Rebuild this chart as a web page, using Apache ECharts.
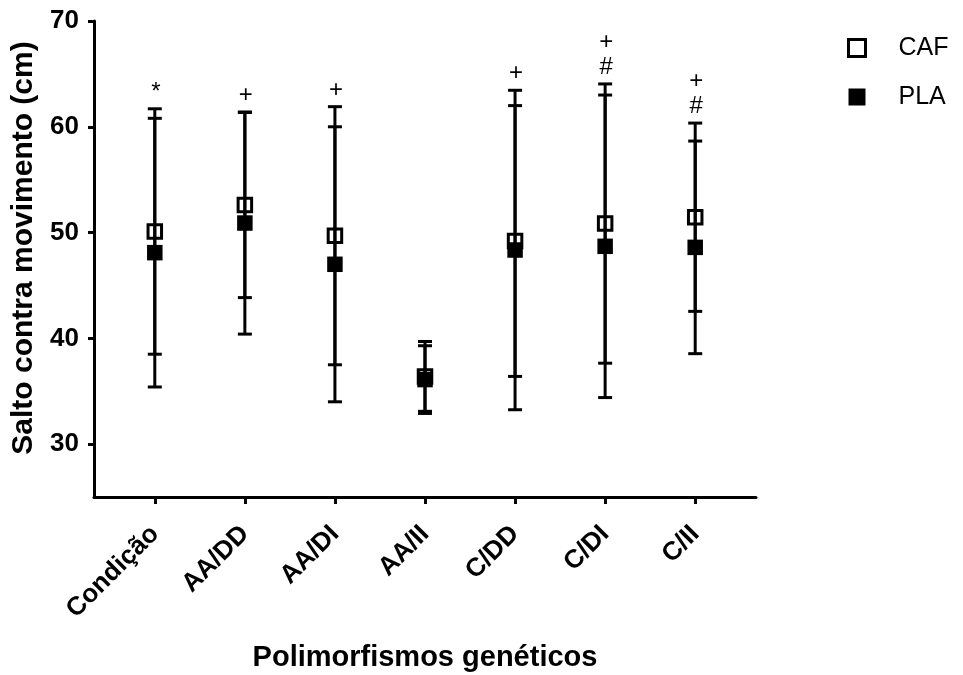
<!DOCTYPE html>
<html>
<head>
<meta charset="utf-8">
<script src="https://cdn.jsdelivr.net/npm/echarts@6/dist/echarts.min.js"></script>
<style>html,body{margin:0;padding:0;background:#fff}#c{width:963px;height:675px}</style>
</head>
<body>
<div id="c"></div>
<script>
const categories = ['Condição', 'AA/DD', 'AA/DI', 'AA/II', 'C/DD', 'C/DI', 'C/II'];
const cafMean = [50.1, 52.6, 49.7, 36.4, 49.2, 50.85, 51.45];
const cafSD   = [11.6, 8.75, 12.2, 3.3, 12.8, 13.2, 8.9];
const plaMean = [48.1, 50.9, 47.0, 36.1, 48.35, 48.7, 48.6];
const plaSD   = [12.7, 10.5, 13.0, 3.2, 15.1, 14.3, 10.05];
const annotations = ['*', '+', '+', '', '+', '+\n#', '+\n#'];
const yTicks = [30, 40, 50, 60, 70];

const FONT = "'Liberation Sans', Arial, sans-serif";
const xPos = categories.map((c, i) => i + 1);

function errData(mean, sd) { return mean.map((m, i) => [i + 1, m, sd[i]]); }
function errRender(params, api) {
  const x = api.value(0), m = api.value(1), s = api.value(2);
  const t = api.coord([x, m + s]), b = api.coord([x, m - s]);
  const hw = 7;
  const st = { stroke: '#000', lineWidth: 3, fill: null };
  return { type: 'group', children: [
    { type: 'line', shape: { x1: t[0], y1: t[1], x2: b[0], y2: b[1] }, style: st },
    { type: 'line', shape: { x1: t[0] - hw, y1: t[1], x2: t[0] + hw, y2: t[1] }, style: st },
    { type: 'line', shape: { x1: b[0] - hw, y1: b[1], x2: b[0] + hw, y2: b[1] }, style: st }
  ]};
}
const annData = categories.map((c, i) => [i + 1, Math.max(cafMean[i] + cafSD[i], plaMean[i] + plaSD[i]), i]);

const chart = echarts.init(document.getElementById('c'), null, { renderer: 'canvas' });
chart.setOption({
  animation: false,
  backgroundColor: '#fff',
  textStyle: { fontFamily: FONT },
  grid: { left: 94, right: 207, top: 21, bottom: 178, containLabel: false, outerBoundsMode: 'none' },
  legend: {
    orient: 'vertical', left: 842, top: 29, itemWidth: 17, itemHeight: 17, itemGap: 21,
    textStyle: { fontFamily: FONT, fontSize: 25, lineHeight: 28, color: '#000', padding: [0, 0, 0, 28] },
    data: [
      { name: 'CAF', icon: 'rect', itemStyle: { color: '#fff', borderColor: '#000', borderWidth: 3 } },
      { name: 'PLA', icon: 'rect', itemStyle: { color: '#000', borderColor: '#000', borderWidth: 0 } }
    ]
  },
  xAxis: {
    type: 'value', min: 0.325, max: 7.675,
    name: 'Polimorfismos genéticos', nameLocation: 'middle', nameGap: 146,
    nameTextStyle: { fontFamily: FONT, fontSize: 29, fontWeight: 'bold', color: '#000' },
    axisLine: { show: true, onZero: false, lineStyle: { color: '#000', width: 3 } },
    axisTick: { show: true, customValues: xPos, length: 7, lineStyle: { color: '#000', width: 3 } },
    axisLabel: { customValues: xPos, formatter: v => categories[Math.round(v) - 1], rotate: 45, margin: 33,
      fontFamily: FONT, fontSize: 26, fontWeight: 'bold', color: '#000' },
    splitLine: { show: false }
  },
  yAxis: {
    type: 'value', min: 25, max: 70,
    name: 'Salto contra movimento (cm)', nameLocation: 'middle', nameGap: 45,
    nameTextStyle: { fontFamily: FONT, fontSize: 30, fontWeight: 'bold', color: '#000', padding: [0, 0, 0, 22] },
    axisLine: { show: true, onZero: false, lineStyle: { color: '#000', width: 3 } },
    axisTick: { show: true, customValues: yTicks, length: 6, lineStyle: { color: '#000', width: 3 } },
    axisLabel: { customValues: yTicks, margin: 15, fontFamily: FONT, fontSize: 26, fontWeight: 'bold', color: '#000' },
    splitLine: { show: false }
  },
  series: [
    { name: 'CAF', type: 'scatter', z: 2, symbol: 'rect', symbolSize: 13.5,
      itemStyle: { color: 'rgba(0,0,0,0)', borderColor: '#000', borderWidth: 3, opacity: 1 },
      data: cafMean.map((m, i) => [i + 1, m]) },
    { name: 'CAFerr', type: 'custom', z: 3, renderItem: errRender, data: errData(cafMean, cafSD), encode: { x: 0, y: 1 } },
    { name: 'PLAerr', type: 'custom', z: 3, renderItem: errRender, data: errData(plaMean, plaSD), encode: { x: 0, y: 1 } },
    { name: 'PLA', type: 'scatter', z: 4, symbol: 'rect', symbolSize: 15.5,
      itemStyle: { color: '#000', opacity: 1 },
      data: plaMean.map((m, i) => [i + 1, m]) },
    { name: 'ann', type: 'custom', z: 5, data: annData, encode: { x: 0, y: 1 },
      renderItem: function (params, api) {
        const p = api.coord([api.value(0), api.value(1)]);
        return { type: 'text', style: { text: annotations[api.value(2)], x: p[0] + 1, y: p[1] - 4,
          align: 'center', verticalAlign: 'bottom', fontFamily: FONT, fontSize: 24, lineHeight: 25, fill: '#000' } };
      } }
  ]
});
</script>
</body>
</html>
